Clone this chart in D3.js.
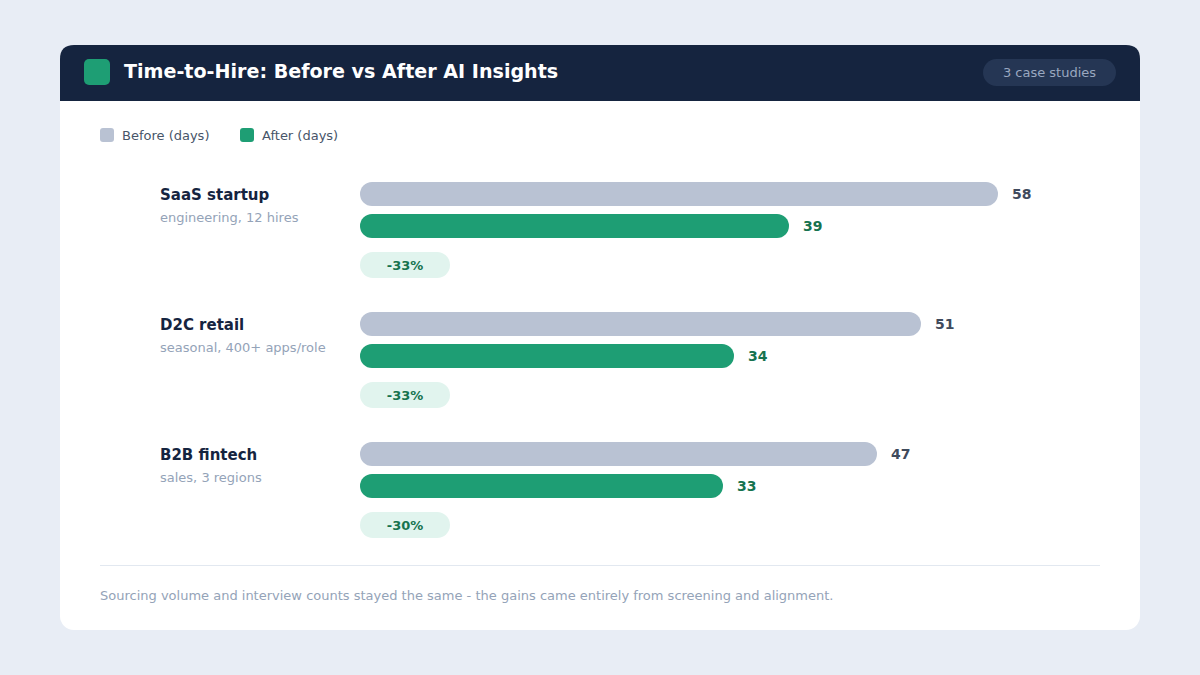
<!DOCTYPE html>
<html>
<head>
<meta charset="utf-8">
<script src="https://cdn.jsdelivr.net/npm/d3@7"></script>
<style>
  html, body { margin: 0; padding: 0; background: #e8edf5; }
  svg { display: block; font-family: "DejaVu Sans", sans-serif; }
</style>
</head>
<body>
<div id="chart"></div>
<script>
// data
var cases = ["SaaS startup", "D2C retail", "B2B fintech"];
var details = ["engineering, 12 hires", "seasonal, 400+ apps/role", "sales, 3 regions"];
var before = [58, 51, 47];
var after = [39, 34, 33];
var changes = ["-33%", "-33%", "-30%"];
var seriesNames = ["Before (days)", "After (days)"];

var width = 1200, height = 675;
var colors = {before: "#b9c2d3", after: "#1e9e74", dark: "#15243f"};

var svg = d3.select("#chart").append("svg")
    .attr("width", width)
    .attr("height", height);

// card
svg.append("rect")
    .attr("x", 60).attr("y", 45)
    .attr("width", 1080).attr("height", 585)
    .attr("rx", 14)
    .attr("fill", "#ffffff");

// header with rounded top only
svg.append("path")
    .attr("d", "M60,101 L60,59 Q60,45 74,45 L1126,45 Q1140,45 1140,59 L1140,101 Z")
    .attr("fill", colors.dark);

svg.append("rect")
    .attr("x", 84).attr("y", 59)
    .attr("width", 26).attr("height", 26)
    .attr("rx", 5)
    .attr("fill", colors.after);

svg.append("text")
    .attr("x", 124).attr("y", 78)
    .attr("fill", "#ffffff")
    .attr("font-size", 19.1)
    .attr("font-weight", "bold")
    .text("Time-to-Hire: Before vs After AI Insights");

svg.append("rect")
    .attr("x", 983).attr("y", 59)
    .attr("width", 133).attr("height", 27)
    .attr("rx", 13.5)
    .attr("fill", "#253654");

svg.append("text")
    .attr("x", 1049.5).attr("y", 77)
    .attr("text-anchor", "middle")
    .attr("fill", "#9aa8c0")
    .attr("font-size", 13)
    .text("3 case studies");

// legend
var legend = svg.append("g").selectAll("g")
    .data(seriesNames)
    .enter().append("g")
    .attr("transform", function(d, i) { return "translate(" + (100 + i * 140) + ",128)"; });

legend.append("rect")
    .attr("width", 14).attr("height", 14)
    .attr("rx", 3)
    .attr("fill", function(d, i) { return i == 0 ? colors.before : colors.after; });

legend.append("text")
    .attr("x", 22).attr("y", 12)
    .attr("fill", "#475569")
    .attr("font-size", 13)
    .text(function(d) { return d; });

// scales
var x = d3.scaleLinear().domain([0, 60]).range([360, 1020]);
var y = d3.scaleBand().domain(cases).range([182, 572]).paddingInner(0);

var groups = svg.append("g").selectAll("g")
    .data(cases)
    .enter().append("g")
    .attr("transform", function(d) { return "translate(0," + y(d) + ")"; });

groups.append("text")
    .attr("x", 160).attr("y", 18)
    .attr("fill", colors.dark)
    .attr("font-size", 15)
    .attr("font-weight", "bold")
    .text(function(d) { return d; });

groups.append("text")
    .attr("x", 160).attr("y", 40)
    .attr("fill", "#94a3b8")
    .attr("font-size", 13)
    .text(function(d, i) { return details[i]; });

// before bars
groups.append("rect")
    .attr("x", x(0)).attr("y", 0)
    .attr("width", function(d, i) { return x(before[i]) - x(0); })
    .attr("height", 24)
    .attr("rx", 12)
    .attr("fill", colors.before);

groups.append("text")
    .attr("x", function(d, i) { return x(before[i]) + 14; })
    .attr("y", 17)
    .attr("fill", "#3f4a5c")
    .attr("font-size", 14)
    .attr("font-weight", "bold")
    .text(function(d, i) { return before[i]; });

// after bars
groups.append("rect")
    .attr("x", x(0)).attr("y", 32)
    .attr("width", function(d, i) { return x(after[i]) - x(0); })
    .attr("height", 24)
    .attr("rx", 12)
    .attr("fill", colors.after);

groups.append("text")
    .attr("x", function(d, i) { return x(after[i]) + 14; })
    .attr("y", 49)
    .attr("fill", "#17734f")
    .attr("font-size", 14)
    .attr("font-weight", "bold")
    .text(function(d, i) { return after[i]; });

// change pills
groups.append("rect")
    .attr("x", x(0)).attr("y", 70)
    .attr("width", 90).attr("height", 26)
    .attr("rx", 13)
    .attr("fill", "#e1f4ee");

groups.append("text")
    .attr("x", x(0) + 45).attr("y", 88)
    .attr("text-anchor", "middle")
    .attr("fill", "#17734f")
    .attr("font-size", 13)
    .attr("font-weight", "bold")
    .text(function(d, i) { return changes[i]; });

// footer
svg.append("line")
    .attr("x1", 100).attr("x2", 1100)
    .attr("y1", 565.5).attr("y2", 565.5)
    .attr("stroke", "#e2e8f0");

svg.append("text")
    .attr("x", 100).attr("y", 600)
    .attr("fill", "#94a3b8")
    .attr("font-size", 13)
    .text("Sourcing volume and interview counts stayed the same - the gains came entirely from screening and alignment.");
</script>
</body>
</html>
